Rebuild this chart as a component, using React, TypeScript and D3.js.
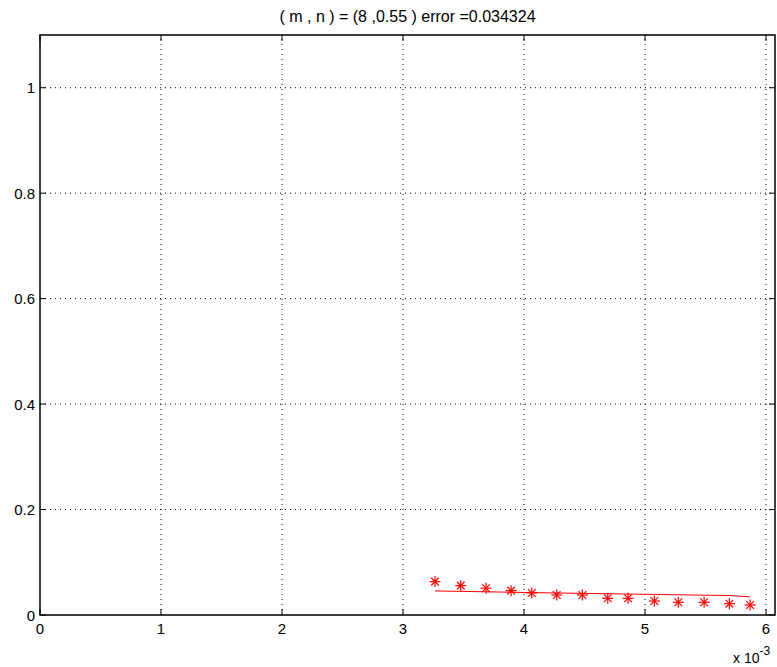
import React from "react";
import * as d3 from "d3";

const title = "( m , n ) = (8 ,0.55 ) error =0.034324";
const xTicks = [0, 1, 2, 3, 4, 5, 6];
const yTicks = [0, 0.2, 0.4, 0.6, 0.8, 1];
const xData = [3.264, 3.477, 3.686, 3.893, 4.064, 4.27, 4.482, 4.692, 4.86, 5.077, 5.275, 5.488, 5.697, 5.868];
const yData = [0.0633, 0.0557, 0.0508, 0.0462, 0.0418, 0.038, 0.038, 0.0317, 0.0317, 0.0266, 0.0241, 0.0241, 0.0215, 0.019];
const yFit = [0.0456, 0.0448, 0.044, 0.0432, 0.0425, 0.0418, 0.041, 0.0403, 0.0397, 0.039, 0.0383, 0.0376, 0.0369, 0.0344];

export default function App() {
  const W = 777, H = 667;
  const L = 40, R = 775, T = 35, B = 615;
  const x = d3.scaleLinear().domain([0, 6.074]).range([L, R]);
  const y = d3.scaleLinear().domain([0, 1.1]).range([B, T]);
  const line = d3.line<number>().x((_, i) => x(xData[i])).y((d) => y(d));
  const font = "Liberation Sans, Arial, sans-serif";
  const s = 5.5;
  return (
    <svg width={W} height={H} style={{ position: "absolute", left: 0, top: 0, background: "#fff" }}>
      <rect x={0} y={0} width={W} height={H} fill="#fff" />
      <text x={(L + R) / 2} y={22} fontSize={16} fontFamily={font} textAnchor="middle">{title}</text>
      {xTicks.filter((t) => t > 0).map((t) => (
        <line key={"gx" + t} x1={x(t)} x2={x(t)} y1={B} y2={T} stroke="#000" strokeWidth={1} strokeDasharray="1,4" />
      ))}
      {yTicks.filter((t) => t > 0).map((t) => (
        <line key={"gy" + t} x1={L} x2={R} y1={y(t)} y2={y(t)} stroke="#000" strokeWidth={1} strokeDasharray="1,4" />
      ))}
      {xTicks.map((t) => (
        <g key={"tx" + t}>
          <line x1={x(t)} x2={x(t)} y1={B} y2={B - 6} stroke="#000" />
          <line x1={x(t)} x2={x(t)} y1={T} y2={T + 6} stroke="#000" />
          <text x={x(t)} y={B + 19} fontSize={15} fontFamily={font} textAnchor="middle">{t}</text>
        </g>
      ))}
      {yTicks.map((t) => (
        <g key={"ty" + t}>
          <line x1={L} x2={L + 6} y1={y(t)} y2={y(t)} stroke="#000" />
          <line x1={R} x2={R - 6} y1={y(t)} y2={y(t)} stroke="#000" />
          <text x={L - 5} y={y(t) + 5.5} fontSize={15} fontFamily={font} textAnchor="end">{t}</text>
        </g>
      ))}
      <rect x={L} y={T} width={R - L} height={B - T} fill="none" stroke="#000" strokeWidth={1.5} />
      <path d={line(yFit) || ""} fill="none" stroke="#ff0000" strokeWidth={1} />
      {xData.map((xv, i) => {
        const cx = x(xv), cy = y(yData[i]);
        return (
          <g key={"p" + i} stroke="#ff0000" strokeWidth={1.2}>
            <line x1={cx - s} x2={cx + s} y1={cy} y2={cy} />
            <line x1={cx} x2={cx} y1={cy - s} y2={cy + s} />
            <line x1={cx - s * 0.7} x2={cx + s * 0.7} y1={cy - s * 0.7} y2={cy + s * 0.7} />
            <line x1={cx - s * 0.7} x2={cx + s * 0.7} y1={cy + s * 0.7} y2={cy - s * 0.7} />
          </g>
        );
      })}
      <text x={733} y={663} fontSize={14} fontFamily={font}>
        x 10
        <tspan dy={-8} fontSize={12}>-3</tspan>
      </text>
    </svg>
  );
}
